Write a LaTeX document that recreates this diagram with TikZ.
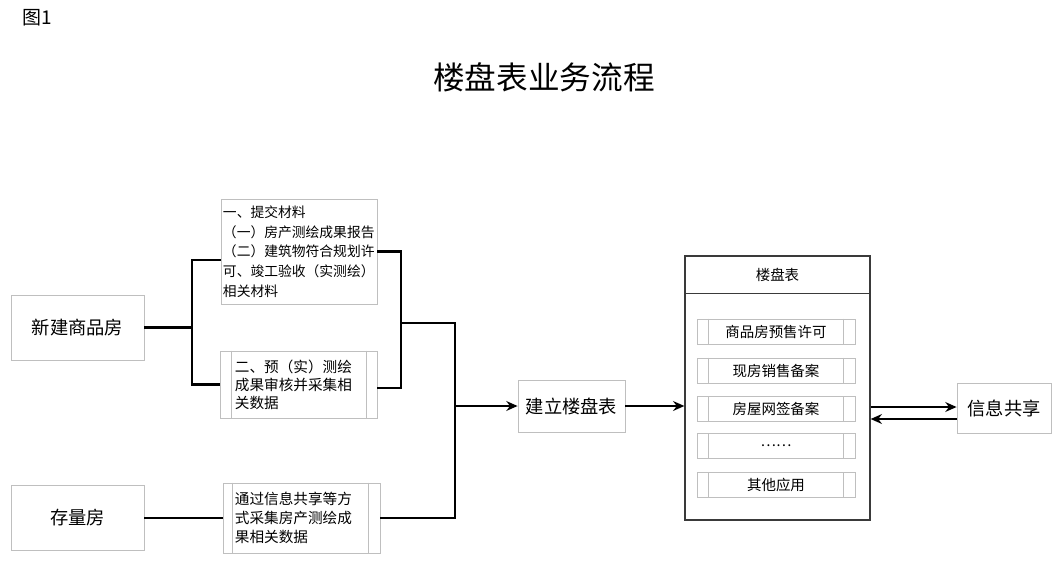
\documentclass[tikz,border=0pt]{standalone}
\usepackage{fontspec}
\setmainfont{Noto Sans CJK SC}
\usetikzlibrary{arrows.meta}

\definecolor{boxgray}{HTML}{BFBFBF}
\definecolor{framegray}{HTML}{3A3A3A}
\def\pxu{0.025cm} % 一个像素

\tikzset{
  srcbox/.style={draw=boxgray, line width=0.6pt, fill=white, inner sep=0pt,
    font=\fontsize{13}{15}\selectfont},
  textbox/.style={draw=boxgray, line width=0.6pt, align=left, inner ysep=0pt},
  itembox/.style={draw=boxgray, line width=0.6pt, inner sep=0pt,
    minimum width=158*\pxu, minimum height=25*\pxu,
    font=\fontsize{10.3}{12}\selectfont},
  procline/.style={draw=boxgray, line width=0.6pt},
  link/.style={line width=1.5pt},
  arrowlink/.style={link, -{Stealth[length=8pt, width=7pt]}},
}

\begin{document}
\begin{tikzpicture}[x=0.025cm, y=-0.025cm]
    \useasboundingbox (0,0) rectangle (1060,573);

    % --- 标题 ---
    \node[anchor=west, inner sep=0pt, font=\fontsize{13.5}{15}\selectfont] (figno) at (22,18) {图1};
    \node[inner sep=0pt, font=\fontsize{22.5}{26}\selectfont] (title) at (544,77) {楼盘表业务流程};

    % --- 左侧：房屋来源 ---
    \node[srcbox, minimum width=133*\pxu, minimum height=65*\pxu] (xinjian) at (77.5,327.5) {新建商品房};
    \node[srcbox, minimum width=133*\pxu, minimum height=65*\pxu] (cunliang) at (77.5,518) {存量房};

    % --- 中间：材料与数据 ---
    \node[textbox, text width=3.8cm, inner xsep=0.05cm, minimum height=105*\pxu,
          font=\fontsize{9.8}{14}\selectfont] (tijiao) at (299,251.5)
        {一、提交材料\\（一）房产测绘成果报告\\（二）建筑物符合规划许\\可、竣工验收（实测绘）\\相关材料};
    \node[textbox, text width=3.175cm, inner xsep=0.375cm, minimum height=67*\pxu,
          font=\fontsize{10.4}{12.8}\selectfont] (yuce) at (298.5,384.5)
        {二、预（实）测绘\\成果审核并采集相\\关数据};
    \node[textbox, text width=3.325cm, inner xsep=0.3cm, minimum height=70*\pxu,
          font=\fontsize{10.4}{13.4}\selectfont] (caiji) at (301.5,518)
        {通过信息共享等方\\式采集房产测绘成\\果相关数据};
    % 过程框两侧竖线
    \draw[procline] ([xshift=0.3cm]yuce.north west) -- ([xshift=0.3cm]yuce.south west);
    \draw[procline] ([xshift=-0.275cm]yuce.north east) -- ([xshift=-0.275cm]yuce.south east);
    \draw[procline] ([xshift=0.25cm]caiji.north west) -- ([xshift=0.25cm]caiji.south west);
    \draw[procline] ([xshift=-0.3cm]caiji.north east) -- ([xshift=-0.3cm]caiji.south east);

    % --- 建立楼盘表 ---
    \node[srcbox, minimum width=107*\pxu, minimum height=52*\pxu] (jianli) at (571.5,406) {建立楼盘表};

    % --- 右侧：楼盘表及应用 ---
    \node[draw=framegray, line width=0.9pt, minimum width=185*\pxu, minimum height=264*\pxu] (loupan) at (777.5,388) {};
    \draw[draw=framegray, line width=0.9pt] ([yshift=-0.95cm]loupan.north west) -- ([yshift=-0.95cm]loupan.north east);
    \node[font=\fontsize{10.3}{12}\selectfont] (header) at (777.5,275) {楼盘表};
    \foreach \name/\y/\txt in {shangpin/331.5/商品房预售许可, xianfang/370.5/现房销售备案,
                              wangqian/409/房屋网签备案, dots/446/……, qita/485/其他应用} {
        \node[itembox] (\name) at (776,\y) {\txt};
        \draw[procline] ([xshift=0.3cm]\name.north west) -- ([xshift=0.3cm]\name.south west);
        \draw[procline] ([xshift=-0.3cm]\name.north east) -- ([xshift=-0.3cm]\name.south east);
    }

    \node[srcbox, minimum width=94*\pxu, minimum height=50*\pxu] (xinxi) at (1004,408) {信息共享};

    % --- 连接线 ---
    \coordinate (fork) at (192,327.5);
    \draw[link] (xinjian.east) -- (fork);
    \draw[link] ([yshift=-0.21cm]tijiao.west) -| (fork) |- (yuce.west);
    \coordinate (merge) at (401,323);
    \draw[link] (tijiao.east) -| (merge) |- ([yshift=-0.09cm]yuce.east);
    \coordinate (bus) at (455,406);
    \draw[link] (merge) -| (bus) |- (caiji.east);
    \draw[link] (cunliang.east) -- (caiji.west);
    \draw[arrowlink] (bus) -- (jianli.west);
    \draw[arrowlink] (jianli.east) -- (jianli.east -| loupan.west);
    \draw[arrowlink] ([yshift=0.025cm]xinxi.west -| loupan.east) -- ([yshift=0.025cm]xinxi.west);
    \draw[arrowlink] ([yshift=-0.275cm]xinxi.west) -- ([yshift=-0.275cm]xinxi.west -| loupan.east);

\end{tikzpicture}
\end{document}
